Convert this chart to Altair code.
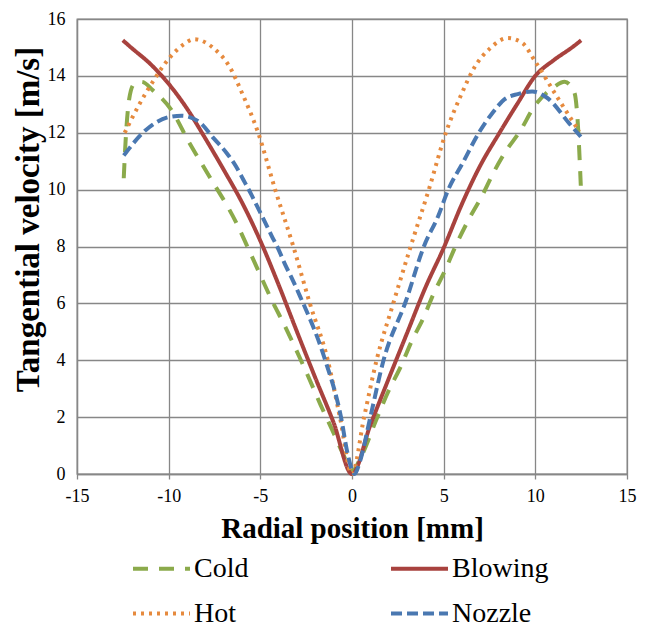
import altair as alt
import pandas as pd

series_names = ["Cold", "Blowing", "Hot", "Nozzle"]
series_colors = ["#8BAA4B", "#A8423E", "#E68A3E", "#4A78B1"]
series_dashes = [[15, 11], [1, 0], [3, 5], [11, 5]]
legend_order = ["Cold", "Hot", "Blowing", "Nozzle"]

x_ticks = [-15, -10, -5, 0, 5, 10, 15]
y_ticks = [0, 2, 4, 6, 8, 10, 12, 14, 16]

cold_x = [-12.45, -12.35, -12.15, -11.9, -11.47, -10.86, -9.83, -8.92, -7.86, -6.3,
          -5.51, -4.37, -3.66, -2.34, -1.72, -1.1, -0.49, 0,
          0.49, 1.37, 1.98, 2.69, 3.22, 3.93, 4.45, 5.07, 5.69, 6.4, 7.1, 7.72, 8.33, 9.2, 9.92,
          10.98, 11.6, 12.13, 12.3, 12.48]
cold_y = [10.4, 11.7, 13.2, 13.7, 13.79, 13.49, 12.78, 11.7, 10.55, 8.82,
          7.72, 6.11, 5.2, 3.36, 2.44, 1.58, 0.71, 0.1,
          0.6, 1.98, 2.9, 3.82, 4.62, 5.54, 6.34, 7.15, 8.07, 8.99, 9.79, 10.6, 11.29, 12.09, 12.9,
          13.59, 13.79, 13.41, 12.5, 10.14]

blowing_x = [-12.5, -12, -11, -10, -9, -8, -7, -6, -5, -4, -3, -2, -1, 0,
             1, 2, 3, 4, 5, 6, 7, 8, 9, 10, 11, 12, 12.5]
blowing_y = [15.25, 14.97, 14.42, 13.72, 12.85, 11.8, 10.7, 9.55, 8.2, 6.65, 5.0, 3.38, 1.8, 0,
             1.72, 3.35, 4.95, 6.55, 7.95, 9.5, 10.85, 11.95, 13.0, 14.0, 14.55, 15.0, 15.25]

hot_x = [-12.4, -11.6, -10.9, -9.92, -9.2, -8.6, -7.6, -6.66, -6, -5.12, -4.19, -3.2, -2.3,
         -1.32, -0.66, 0,
         0.66, 1.34, 2.25, 3.2, 4.19, 5.12, 6, 6.66, 7.5, 8.5, 9.3, 10, 11.15, 12.04, 12.4]
hot_y = [12.0, 13.0, 13.76, 14.66, 15.1, 15.29, 15.0, 14.3, 13.4, 12.0, 10.0, 8.0, 6.0,
         4.0, 2.0, 0,
         2.0, 4.0, 6.0, 8.0, 10.0, 12.0, 13.4, 14.28, 14.95, 15.33, 15.15, 14.5, 13.3, 12.4, 12.05]

nozzle_x = [-12.45, -11.24, -10.0, -9.3, -8.33, -7.54, -6.84, -6.34, -5.92, -5.51, -5.11, -4.72,
            -4.37, -4.01, -3.66, -3.31, -2.82, -1.46, -0.6, -0.24, 0.13,
            0.46, 1.0, 1.72, 2.95, 3.92, 4.72, 5.25, 6.04, 6.92, 7.63, 8.33, 9.04, 9.83, 10.62,
            11.86, 12.48]
nozzle_y = [11.2, 12.1, 12.55, 12.6, 12.38, 11.8, 11.29, 10.83, 10.34, 9.85, 9.33, 8.82,
            8.36, 7.9, 7.38, 6.92, 6.23, 4.0, 2.0, 0.72, 0,
            0.5, 2.0, 4.0, 6.1, 8.0, 9.1, 10.0, 10.94, 12.0, 12.67, 13.18, 13.36, 13.45, 13.24,
            12.32, 11.86]

xs = [cold_x, blowing_x, hot_x, nozzle_x]
ys = [cold_y, blowing_y, hot_y, nozzle_y]
rows = []
for name, sx, sy in zip(series_names, xs, ys):
    for i, (a, b) in enumerate(zip(sx, sy)):
        rows.append({"series": name, "x": a, "y": b, "i": i})
df = pd.DataFrame(rows)

FONT = "Liberation Serif, Tinos, Times New Roman, DejaVu Serif, serif"
GRID = "#878787"

color_map = dict(zip(series_names, series_colors))
dash_map = dict(zip(series_names, series_dashes))

legend = alt.Legend(
    title=None, orient="none", legendX=54, legendY=519, columns=2,
    symbolType="stroke", symbolStrokeWidth=4, symbolSize=3249,
    labelFont=FONT, labelFontSize=28, labelColor="black", labelOffset=2,
    columnPadding=134, rowPadding=-22, labelLimit=300,
)

color = alt.Color("series:N", scale=alt.Scale(domain=legend_order, range=[color_map[s] for s in legend_order]),
                  legend=legend)
dash = alt.StrokeDash("series:N", scale=alt.Scale(domain=legend_order, range=[dash_map[s] for s in legend_order]),
                      legend=legend)

xenc = alt.X("x:Q", scale=alt.Scale(domain=[-15, 15], nice=False),
             axis=alt.Axis(values=x_ticks, title="Radial position [mm]", labelFont=FONT, labelFontSize=18,
                           labelColor="black", titleFont=FONT, titleFontSize=29, titleFontWeight="bold",
                           titleColor="black", titlePadding=9, tickSize=5, tickColor=GRID, tickWidth=1.3,
                           labelPadding=8, domainColor=GRID, domainWidth=1.3, gridColor=GRID, gridWidth=1.3,
                           labelFlush=False, labelExpr="replace(datum.label, '\u2212', '-')"))
yenc = alt.Y("y:Q", scale=alt.Scale(domain=[0, 16], nice=False),
             axis=alt.Axis(values=y_ticks, title="Tangential velocity [m/s]", labelFont=FONT, labelFontSize=18,
                           labelColor="black", titleFont=FONT, titleFontSize=33, titleFontWeight="bold",
                           titleColor="black", titlePadding=2, ticks=False, labelPadding=12,
                           domainColor=GRID, domainWidth=1.3, gridColor=GRID, gridWidth=1.3, titleY=200,
                           labelFlush=False))

layers = []
for name in series_names:
    layers.append(
        alt.Chart(df).transform_filter(alt.datum.series == name)
        .mark_line(strokeWidth=4, interpolate="monotone")
        .encode(x=xenc, y=yenc, color=color, strokeDash=dash, order="i:Q")
    )

chart = alt.layer(*layers).properties(
    width=550, height=455,
    padding={"left": 4, "top": 2, "right": 2, "bottom": 0},
).configure(background="white", font=FONT).configure_view(stroke=GRID, strokeWidth=1.3)

chart.save("out.html", embed_options={"renderer": "svg", "actions": False})
